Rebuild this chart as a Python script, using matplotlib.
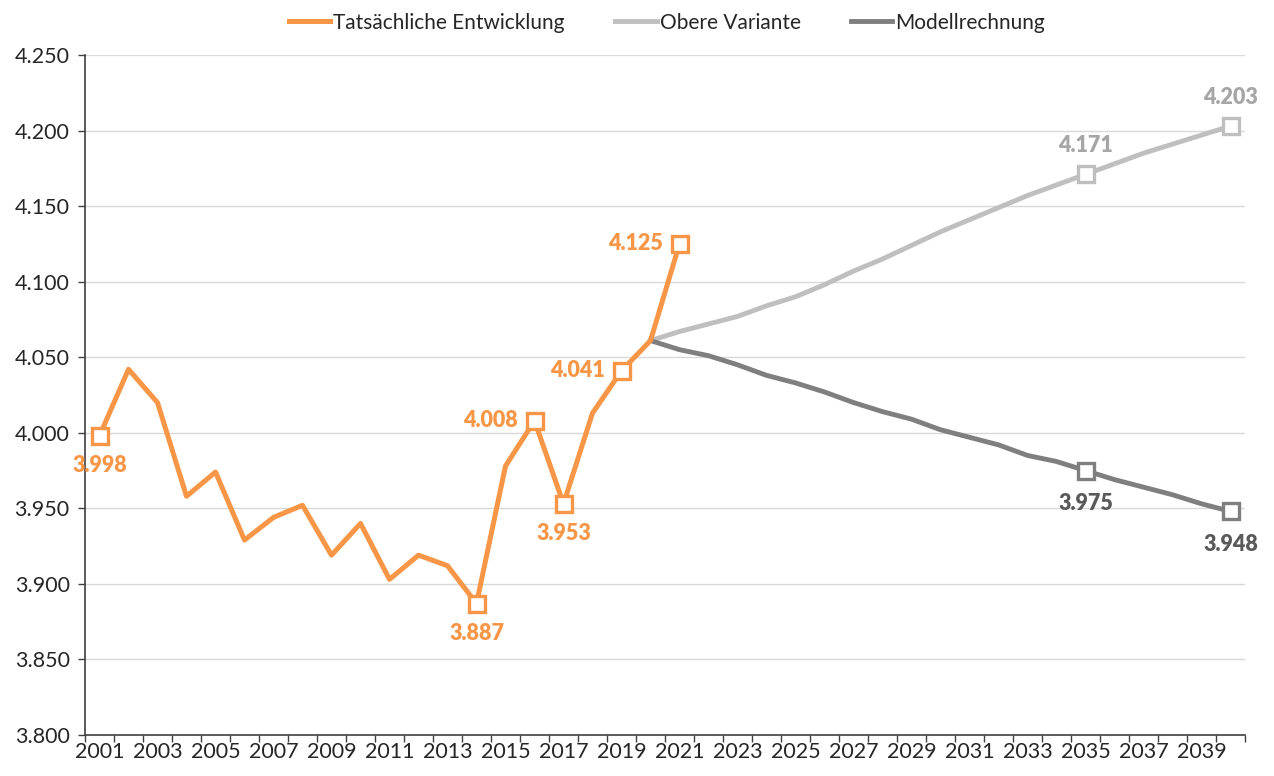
import matplotlib
matplotlib.use("Agg")
import matplotlib.pyplot as plt
from matplotlib.ticker import FuncFormatter, MultipleLocator, FixedLocator

plt.rcParams["font.family"] = ["Lato", "DejaVu Sans"]

years = list(range(2001, 2041))

actual_years = list(range(2001, 2022))
actual = [3998, 4042, 4020, 3958, 3974, 3929, 3944, 3952, 3919, 3940,
          3903, 3919, 3912, 3887, 3978, 4008, 3953, 4013, 4041, 4061, 4125]

proj_years = list(range(2020, 2041))
upper = [4061, 4067, 4072, 4077, 4084, 4090, 4098, 4107, 4115, 4124, 4133,
         4141, 4149, 4157, 4164, 4171, 4178, 4185, 4191, 4197, 4203]
model = [4061, 4055, 4051, 4045, 4038, 4033, 4027, 4020, 4014, 4009, 4002,
         3997, 3992, 3985, 3981, 3975, 3969, 3964, 3959, 3953, 3948]

actual_marked = [2001, 2014, 2016, 2017, 2019, 2021]
proj_marked = [2035, 2040]

ORANGE = "#F79646"
LIGHT = "#BFBFBF"
DARK = "#7F7F7F"


def de_format(v, pos=None):
    return f"{v:,.0f}".replace(",", ".")


def idx(year):
    return years.index(year)


fig = plt.figure(figsize=(12.74, 7.76), dpi=100)
ax = fig.add_axes([85 / 1274, 1 - 735 / 776, 1160 / 1274, 680 / 776])

ax.plot([idx(y) for y in proj_years], upper, color=LIGHT, lw=3.5,
        solid_joinstyle="round", label="Obere Variante", zorder=3)
ax.plot([idx(y) for y in proj_years], model, color=DARK, lw=3.5,
        solid_joinstyle="round", label="Modellrechnung", zorder=3)
ax.plot([idx(y) for y in actual_years], actual, color=ORANGE, lw=3.6,
        solid_joinstyle="round", label="Tatsächliche Entwicklung", zorder=4)

mk = dict(marker="s", ms=11, mfc="white", mew=2.4, ls="none", zorder=5)
ax.plot([idx(y) for y in actual_marked],
        [actual[actual_years.index(y)] for y in actual_marked],
        mec=ORANGE, **mk)
ax.plot([idx(y) for y in proj_marked],
        [upper[proj_years.index(y)] for y in proj_marked], mec=LIGHT, **mk)
ax.plot([idx(y) for y in proj_marked],
        [model[proj_years.index(y)] for y in proj_marked], mec=DARK, **mk)

# label placement: (dx, dy, ha, va) in points
orange_pos = {2001: (0, -14, "center", "top"),
              2014: (0, -14, "center", "top"),
              2016: (-12, 0, "right", "center"),
              2017: (0, -14, "center", "top"),
              2019: (-12, 0, "right", "center"),
              2021: (-12, 0, "right", "center")}
lbl = dict(textcoords="offset points", fontsize=15.5, fontweight="heavy",
           zorder=6)
for y in actual_marked:
    dx, dy, ha, va = orange_pos[y]
    v = actual[actual_years.index(y)]
    ax.annotate(de_format(v), (idx(y), v), xytext=(dx, dy), ha=ha, va=va,
                color=ORANGE, **lbl)
for y in proj_marked:
    v = upper[proj_years.index(y)]
    ax.annotate(de_format(v), (idx(y), v), xytext=(0, 13), ha="center",
                va="bottom", color="#A6A6A6", **lbl)
    v = model[proj_years.index(y)]
    ax.annotate(de_format(v), (idx(y), v), xytext=(0, -16), ha="center",
                va="top", color="#595959", **lbl)

ax.set_xlim(-0.5, len(years) - 0.5)
ax.set_ylim(3800, 4250)
ax.yaxis.set_major_locator(MultipleLocator(50))
ax.yaxis.set_major_formatter(FuncFormatter(de_format))
ax.set_xticks(range(0, len(years), 2))
ax.set_xticklabels([str(years[i]) for i in range(0, len(years), 2)])
ax.xaxis.set_minor_locator(FixedLocator([i - 0.5 for i in range(len(years) + 1)]))
ax.tick_params(axis="x", which="major", length=0, labelsize=15.5, pad=5)
ax.tick_params(axis="x", which="minor", length=5, width=1, color="#404040")
ax.tick_params(axis="y", length=5, width=1, color="#404040", labelsize=15.5,
               pad=6, labelcolor="#262626")
ax.tick_params(axis="x", labelcolor="#262626")

ax.grid(axis="y", color="#D9D9D9", lw=1)
ax.set_axisbelow(True)
for s in ["top", "right"]:
    ax.spines[s].set_visible(False)
for s in ["left", "bottom"]:
    ax.spines[s].set_color("#404040")
    ax.spines[s].set_linewidth(1.2)

handles, labels = ax.get_legend_handles_labels()
order = [2, 0, 1]
fig.legend([handles[i] for i in order], [labels[i] for i in order],
           loc="upper center", bbox_to_anchor=(0.5235, 1.008), ncol=3,
           frameon=False, fontsize=15, handlelength=2.0, handletextpad=0.15,
           columnspacing=2.4, labelcolor="#262626")

fig.savefig("out.png", dpi=100)
